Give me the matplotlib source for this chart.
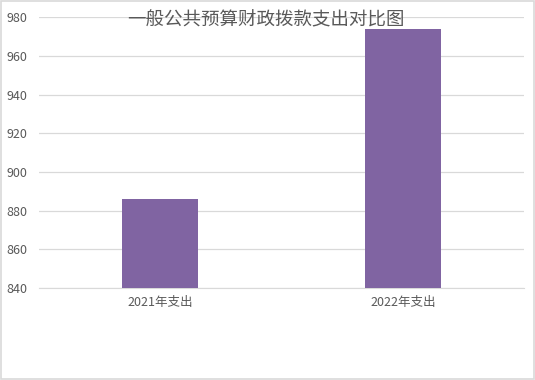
import matplotlib
matplotlib.use("Agg")
import matplotlib.pyplot as plt
from matplotlib.patches import Rectangle

plt.rcParams['font.family'] = ['Noto Sans CJK SC', 'DejaVu Sans']

categories = ["2021年支出", "2022年支出"]
values = [886, 974]
yticks = [840, 860, 880, 900, 920, 940, 960, 980]
title = "一般公共预算财政拨款支出对比图"

fig = plt.figure(figsize=(5.35, 3.8), dpi=100)
ax = fig.add_axes([0.072, 0.242, 0.908, 0.713])
x = list(range(len(categories)))
ax.bar(x, values, width=0.31, color="#8064A2", zorder=3)
ax.set_xlim(-0.5, len(categories) - 0.5)
ax.set_ylim(840, 980)
ax.set_yticks(yticks)
ax.set_xticks(x)
ax.set_xticklabels(categories)
ax.grid(axis="y", color="#D9D9D9", linewidth=0.9, zorder=0)
for s in ["top", "right", "left"]:
    ax.spines[s].set_visible(False)
ax.spines["bottom"].set_color("#D9D9D9")
ax.tick_params(axis="both", length=0, colors="#595959", labelsize=9)
ax.tick_params(axis="x", pad=6)
ax.tick_params(axis="y", pad=8)
fig.text(0.497, 0.945, title, ha="center", va="center", fontsize=13.3,
         color="#595959", fontweight="light")
fig.patches.append(Rectangle((0.002, 0.002), 0.996, 0.996, transform=fig.transFigure,
                             fill=False, edgecolor="#D9D9D9", linewidth=1.2))
fig.savefig("out.png", dpi=100)
